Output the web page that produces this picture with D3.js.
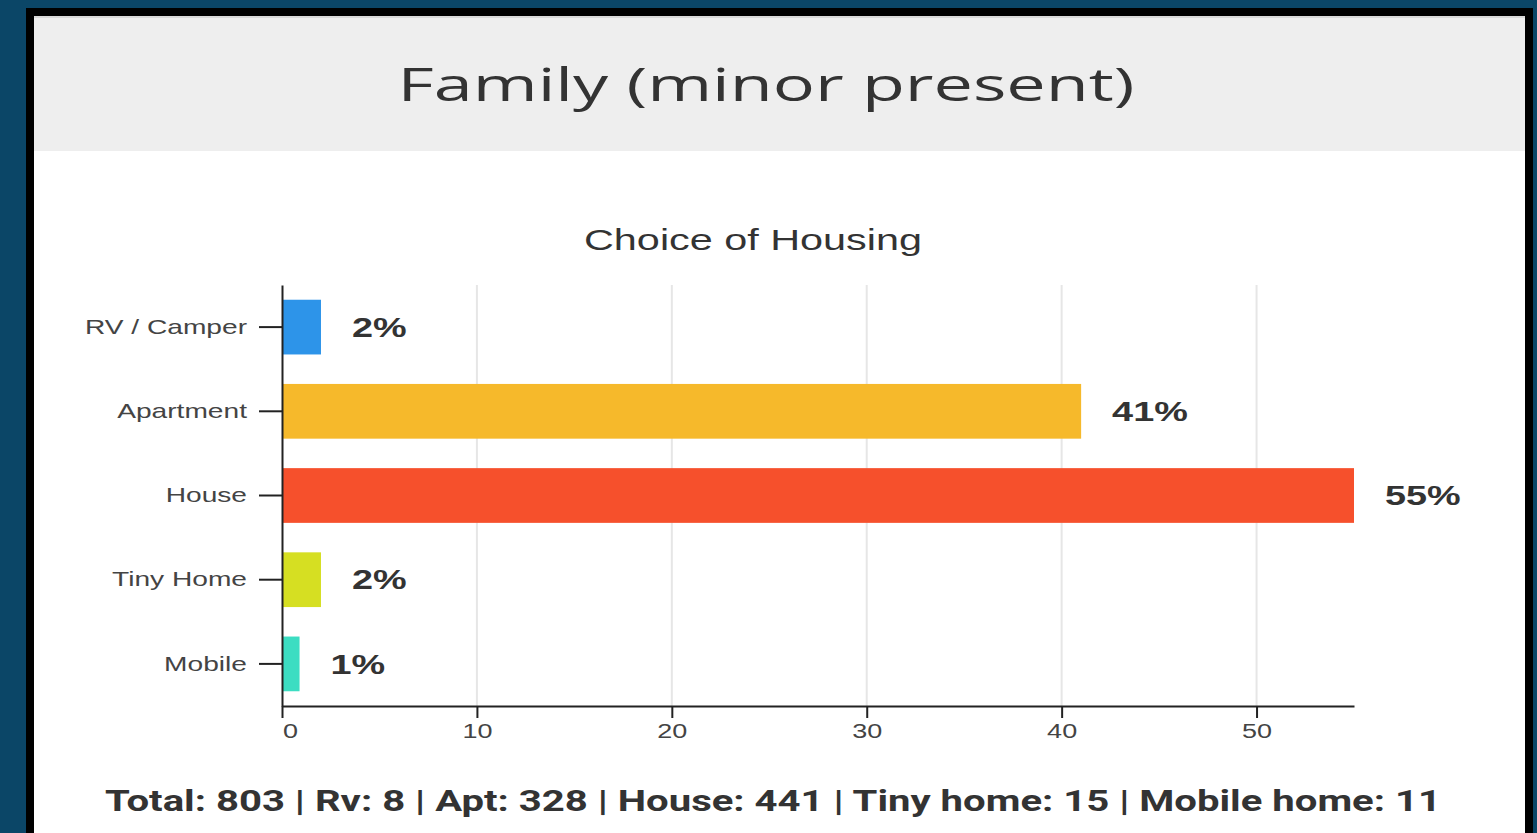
<!DOCTYPE html>
<html>
<head>
<meta charset="utf-8">
<script src="https://cdn.jsdelivr.net/npm/d3@7"></script>
<style>
  html, body { margin: 0; padding: 0; background: #0b4667; overflow: hidden; }
  svg { display: block; }
</style>
</head>
<body>
<svg id="chart" width="1537" height="833"></svg>
<script>
// ---- data ----
const pageTitle = "Family (minor present)";
const chartTitle = "Choice of Housing";
const categories = ["RV / Camper", "Apartment", "House", "Tiny Home", "Mobile"];
const values = [2, 41, 55, 2, 0.9];
const valueLabels = ["2%", "41%", "55%", "2%", "1%"];
const colors = ["#2d94e9", "#f6b92b", "#f6502c", "#d6df22", "#3cddc2"];
const xTicks = [0, 10, 20, 30, 40, 50];
const footer = "Total: 803 | Rv: 8 | Apt: 328 | House: 441 | Tiny home: 15 | Mobile home: 11";

(function () {
const svg = d3.select("#chart");

function fit(sel, w) {
  sel.attr("textLength", w).attr("lengthAdjust", "spacingAndGlyphs");
}
function stretch(sel, k) {
  sel.each(function() {
    const n = this.getComputedTextLength();
    d3.select(this).attr("textLength", n * k).attr("lengthAdjust", "spacingAndGlyphs");
  });
}

// frame
svg.append("rect").attr("x", 0).attr("y", 0).attr("width", 1537).attr("height", 833).attr("fill", "#0b4667");
svg.append("rect").attr("x", 26).attr("y", 8).attr("width", 1507).attr("height", 830).attr("fill", "#000");
svg.append("rect").attr("x", 34).attr("y", 16).attr("width", 1491).attr("height", 820).attr("fill", "#fff");
svg.append("rect").attr("x", 34).attr("y", 18).attr("width", 1491).attr("height", 133).attr("fill", "#eeeeee");
svg.append("rect").attr("x", 34).attr("y", 16).attr("width", 1491).attr("height", 2).attr("fill", "#d9d9d9");

// header title
svg.append("text")
  .attr("x", 766).attr("y", 101)
  .attr("text-anchor", "middle")
  .attr("font-family", "'Open Sans', sans-serif")
  .attr("font-size", 46)
  .attr("fill", "#333")
  .text(pageTitle)
  .call(fit, 737);

// chart title
svg.append("text")
  .attr("x", 753).attr("y", 250)
  .attr("text-anchor", "middle")
  .attr("font-family", "'Liberation Sans', Arial, sans-serif")
  .attr("font-size", 30)
  .attr("fill", "#333")
  .text(chartTitle)
  .call(fit, 338);

// scales
const x0 = 282, x1 = 1354, y0 = 285, y1 = 706;
const x = d3.scaleLinear().domain([0, d3.max(values)]).range([x0, x1]);
const y = d3.scaleBand().domain(categories).range([y0, y1]).paddingInner(0.35).paddingOuter(0.175);

const g = svg.append("g");

// grid
g.selectAll("line.grid").data(xTicks.filter(t => t > 0)).join("line")
  .attr("class", "grid")
  .attr("x1", d => x(d)).attr("x2", d => x(d))
  .attr("y1", y0).attr("y2", y1)
  .attr("stroke", "#e6e6e6").attr("stroke-width", 2);

// bars
g.selectAll("rect.bar").data(categories).join("rect")
  .attr("class", "bar")
  .attr("x", x(0))
  .attr("y", d => y(d))
  .attr("width", (d, i) => x(values[i]) - x(0))
  .attr("height", y.bandwidth())
  .attr("fill", (d, i) => colors[i]);

// value labels
g.selectAll("text.val").data(categories).join("text")
  .attr("class", "val")
  .attr("x", (d, i) => x(values[i]) + 31)
  .attr("y", d => y(d) + y.bandwidth() / 2)
  .attr("dy", "0.36em")
  .attr("font-family", "'Liberation Sans', Arial, sans-serif")
  .attr("font-weight", "bold")
  .attr("font-size", 27)
  .attr("fill", "#333")
  .text((d, i) => valueLabels[i])
  .call(stretch, 1.4);

// x axis
const xAxis = g.append("g")
  .attr("transform", `translate(0,${y1})`)
  .call(d3.axisBottom(x).tickValues(xTicks).tickSize(12).tickPadding(6).tickSizeOuter(0));
xAxis.select(".domain").attr("stroke", "#222").attr("stroke-width", 2);
xAxis.selectAll(".tick line").attr("stroke", "#222").attr("stroke-width", 2);
xAxis.selectAll(".tick text")
  .attr("font-family", "'Liberation Sans', Arial, sans-serif")
  .attr("font-size", 20)
  .attr("fill", "#444")
  .attr("dx", d => d === 0 ? 8 : 0)
  .call(stretch, 1.35);

// y axis
const yAxis = g.append("g")
  .attr("transform", `translate(${x0},0)`)
  .call(d3.axisLeft(y).tickSize(23).tickPadding(12).tickSizeOuter(0));
yAxis.select(".domain").attr("stroke", "#222").attr("stroke-width", 2);
yAxis.selectAll(".tick line").attr("stroke", "#222").attr("stroke-width", 2);
yAxis.selectAll(".tick text")
  .attr("font-family", "'Liberation Sans', Arial, sans-serif")
  .attr("font-size", 21)
  .attr("fill", "#444")
  .call(stretch, 1.34);

// footer
svg.append("text")
  .attr("x", 773).attr("y", 811)
  .attr("text-anchor", "middle")
  .attr("font-family", "Roboto, sans-serif")
  .attr("font-weight", "bold")
  .attr("font-size", 29)
  .attr("fill", "#333")
  .text(footer)
  .call(fit, 1336);
})();
</script>
</body>
</html>
